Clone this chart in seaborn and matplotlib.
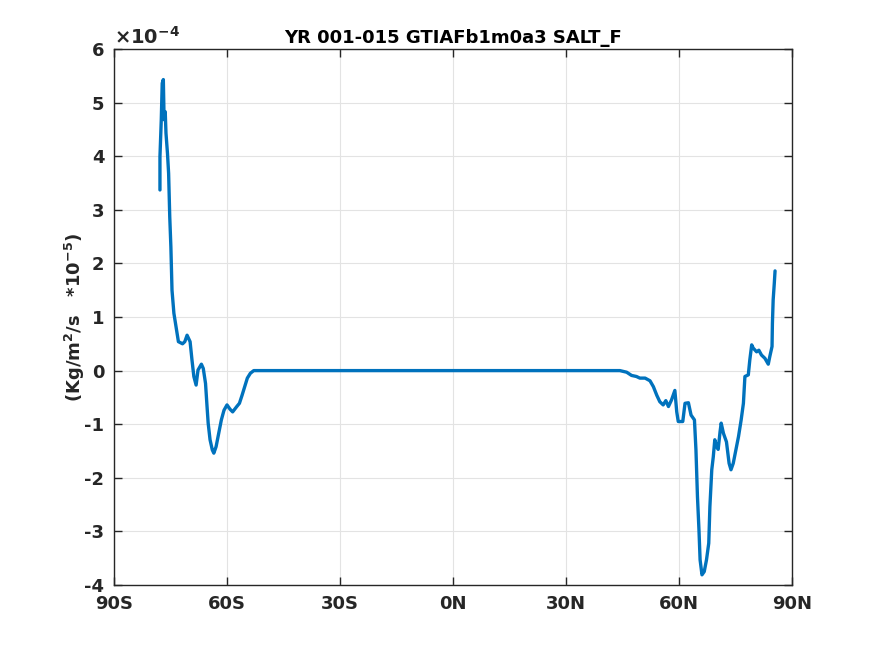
import numpy as np
import pandas as pd
import matplotlib
matplotlib.use('Agg')
import matplotlib.pyplot as plt
import matplotlib.ticker as mticker
import seaborn as sns

# ── Data (latitude in degrees, SALT_F in units of 1e-4) ──────────
lat = [-77.8, -77.8, -77.45, -77.2, -76.9, -76.7, -76.4, -76.2, -75.8, -75.5,
       -75.2, -74.9, -74.6, -74.1, -73.4, -72.9, -71.8, -71.2, -70.6, -69.8,
       -69.3, -68.8, -68.2, -67.7, -66.8, -66.3, -65.7, -65.3, -65.0, -64.5,
       -63.9, -63.5, -62.9, -62.2, -61.5, -60.8, -60.0, -59.2, -58.5, -57.4,
       -56.7, -56.0, -55.3, -54.6, -53.8, -52.9, -40.0, -20.0, 0.0, 20.0,
       44.3, 46.1, 47.4, 48.7, 49.6, 51.0, 52.3, 53.2, 54.1, 54.9,
       55.8, 56.5, 57.2, 58.0, 58.9, 59.4, 59.8, 61.0, 61.6, 62.5,
       63.2, 64.1, 64.5, 64.9, 65.3, 65.6, 66.1, 66.7, 67.3, 67.9,
       68.2, 68.7, 69.1, 69.5, 70.0, 70.4, 70.9, 71.2, 71.8, 72.6,
       73.3, 73.8, 74.4, 75.1, 75.8, 76.5, 77.1, 77.5, 78.4, 78.8,
       79.3, 79.7, 80.6, 81.2, 81.9, 82.8, 83.7, 84.1, 84.7, 84.8,
       85.0, 85.3, 85.5]
salt_f = [3.37, 3.99, 4.68, 5.36, 5.43, 4.68, 4.83, 4.43, 4.05, 3.68,
          2.87, 2.31, 1.50, 1.07, 0.76, 0.54, 0.50, 0.54, 0.66, 0.54,
          0.20, -0.11, -0.27, 0.01, 0.12, 0.04, -0.24, -0.67, -0.98, -1.29,
          -1.48, -1.54, -1.42, -1.17, -0.92, -0.74, -0.64, -0.72, -0.77, -0.67,
          -0.61, -0.46, -0.30, -0.14, -0.05, 0.0, 0.0, 0.0, 0.0, 0.0,
          0.0, -0.03, -0.09, -0.11, -0.14, -0.14, -0.19, -0.30, -0.46, -0.58,
          -0.64, -0.56, -0.67, -0.55, -0.37, -0.77, -0.95, -0.95, -0.61, -0.60,
          -0.83, -0.92, -1.48, -2.35, -2.97, -3.53, -3.81, -3.75, -3.53, -3.22,
          -2.54, -1.85, -1.61, -1.29, -1.42, -1.47, -1.14, -0.98, -1.17, -1.33,
          -1.73, -1.85, -1.73, -1.48, -1.23, -0.92, -0.61, -0.11, -0.08, 0.20,
          0.48, 0.42, 0.35, 0.38, 0.29, 0.23, 0.12, 0.26, 0.45, 0.88,
          1.32, 1.63, 1.86]

xticks = [-90, -60, -30, 0, 30, 60, 90]
xticklabels = ['90S', '60S', '30S', '0N', '30N', '60N', '90N']
yticks = [-4, -3, -2, -1, 0, 1, 2, 3, 4, 5, 6]
scale = 1e-4

df = pd.DataFrame({'lat': lat, 'salt_f': np.array(salt_f) * scale})

sns.set_style('ticks')
plt.rcParams['font.family'] = ['DejaVu Sans']
plt.rcParams['axes.unicode_minus'] = False
plt.rcParams['font.weight'] = 'bold'
plt.rcParams['mathtext.default'] = 'bf'

fig = plt.figure(figsize=(8.75, 6.56), dpi=100)
ax = fig.add_axes([114 / 875, 71 / 656, 678 / 875, 536 / 656])

sns.lineplot(data=df, x='lat', y='salt_f', ax=ax, color='#0072BD',
             linewidth=2.4, sort=False, estimator=None)

ax.set_xlim(-90, 90)
ax.set_ylim(yticks[0] * scale, yticks[-1] * scale)
ax.set_xticks(xticks)
ax.set_xticklabels(xticklabels)
ax.set_yticks(np.array(yticks) * scale)
ax.yaxis.set_major_formatter(mticker.FuncFormatter(lambda v, p: f'{v / scale:.0f}'))

ax.grid(True, color='#e3e3e3', linewidth=0.8)
ax.set_axisbelow(True)
ax.tick_params(direction='in', top=True, right=True, length=6,
               labelsize=13, colors='#262626', width=1)
ax.tick_params(axis='x', pad=7)
ax.tick_params(axis='y', pad=7)
for lab in ax.get_xticklabels() + ax.get_yticklabels():
    lab.set_fontweight('bold')
for s in ax.spines.values():
    s.set_visible(True)
    s.set_color('#262626')
    s.set_linewidth(1)

# exponent label, MATLAB style
ax.text(0.0, 1.002, r'$\times$10$^{-4}$', transform=ax.transAxes,
        ha='left', va='bottom', fontsize=14, color='#262626')

ax.set_xlabel('')
ax.set_ylabel(r'(Kg/m$^{2}$/s   *10$^{-5}$)', fontsize=13,
              fontweight='bold', color='#262626', labelpad=-2)
ax.set_title('YR 001-015 GTIAFb1m0a3 SALT_F', fontsize=13,
             fontweight='bold', color='black', pad=4)

fig.savefig('out.png', dpi=100)
